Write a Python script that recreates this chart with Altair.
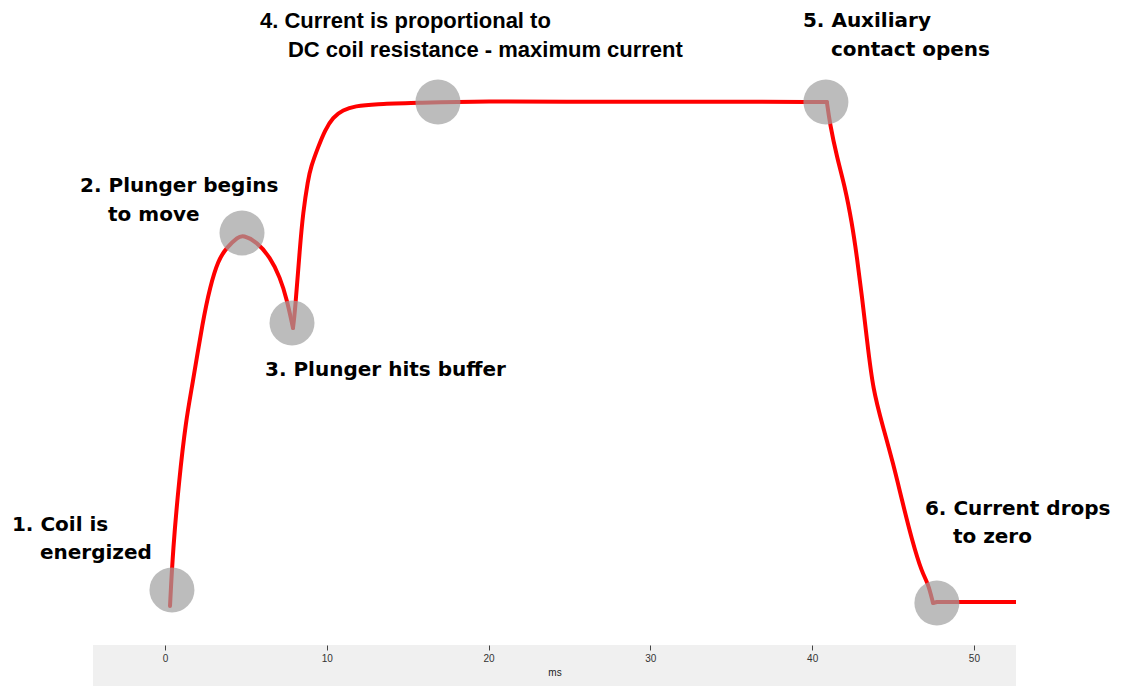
import altair as alt
import pandas as pd

# Current curve (time in ms, current in arbitrary units, 100 = maximum), split at sharp corners
t_ms = [0.31, 0.49, 0.87, 1.30, 1.67, 2.35, 2.78, 3.28, 3.83, 4.51, 4.82, 5.69, 6.49,
        7.11, 7.54, 7.91,
        7.91, 8.03, 8.34, 8.53, 8.84, 9.02, 9.46, 9.89, 10.38, 11.0, 11.74, 12.98,
        15.45, 19.47, 26.9, 33.07, 40.91,
        40.91, 41.09, 41.53, 42.03, 42.46, 42.77, 43.08,
        43.39, 43.76, 44.38, 45.0, 45.55, 46.17, 46.79, 47.16, 47.47,
        47.47, 47.71, 52.6]
current = [-0.6, 10.6, 24.5, 36.5, 43.0, 56.4, 62.9, 68.3, 70.9, 72.9, 73.3, 71.9, 68.9,
           64.9, 60.4, 54.8,
           54.8, 57.8, 70.9, 77.7, 84.3, 86.9, 90.8, 94.2, 96.8, 98.2, 99.0, 99.4,
           99.6, 100.0, 99.8, 99.9, 99.8,
           99.8, 95.6, 88.8, 82.9, 75.7, 68.9, 61.0,
           52.4, 42.4, 35.1, 27.9, 20.5, 12.5, 6.0, 4.0, 0.0,
           0.0, 0.2, 0.2]
segment = [1] * 16 + [2] * 17 + [3] * 16 + [4] * 3

# Event markers
event_t = [0.43, 4.76, 7.85, 16.87, 40.85, 47.71]
event_i = [2.6, 73.7, 55.8, 99.8, 99.8, 0.0]

# Annotation lines
label_text = ["1. Coil is", "energized",
              "2. Plunger begins", "to move",
              "3. Plunger hits buffer",
              "4. Current is proportional to", "DC coil resistance - maximum current",
              "5. Auxiliary", "contact opens",
              "6. Current drops", "to zero"]
label_t = [-9.46, -7.73, -5.25, -3.52, 6.18, 5.87, 7.60, 39.43, 41.16, 46.97, 48.70]
label_i = [15.5, 10.0, 83.1, 77.3, 46.4, 115.9, 110.2, 115.9, 110.2, 18.7, 13.1]
label_group = ["a", "a", "a", "a", "a", "b", "b", "a", "a", "a", "a"]

x_ticks = [0, 10, 20, 30, 40, 50]

curve = pd.DataFrame({"t": t_ms, "i": current, "seg": segment})
curve["k"] = range(len(curve))
events = pd.DataFrame({"t": event_t, "i": event_i})
labels = pd.DataFrame({"t": label_t, "i": label_i, "text": label_text, "g": label_group})

W, H = 923, 637
xs = alt.Scale(domain=[-4.45, 52.6], nice=False, zero=False)
ys = alt.Scale(domain=[-8.37, 118.53], nice=False, zero=False)

xenc = alt.X("t:Q", scale=xs, title="ms",
             axis=alt.Axis(values=x_ticks, domain=False, grid=False, tickSize=5,
                           tickColor="#444", labelColor="#333", labelFontSize=10,
                           labelFont="Liberation Sans", titleFont="Liberation Sans",
                           titleFontSize=10, titleFontWeight="normal", titleColor="#222",
                           labelPadding=3, titlePadding=4, zindex=1))
yenc = alt.Y("i:Q", scale=ys, axis=None)

band = alt.Chart(pd.DataFrame({"a": [0]})).mark_rect(color="#f0f0f0").encode(
    x=alt.value(0), x2=alt.value(W), y=alt.value(H), y2=alt.value(H + 41))

curved = alt.Chart(curve).transform_filter("datum.seg < 4").mark_line(
    color="#ff0000", strokeWidth=4, interpolate="basis", strokeCap="round",
    strokeJoin="round").encode(x=xenc, y=yenc, detail="seg:N", order="k:Q")

flat = alt.Chart(curve).transform_filter("datum.seg == 4").mark_line(
    color="#ff0000", strokeWidth=4, strokeJoin="round").encode(
    x=alt.X("t:Q", scale=xs), y=alt.Y("i:Q", scale=ys), order="k:Q")

dots = alt.Chart(events).mark_circle(size=2025, color="#a0a0a0", opacity=0.7).encode(
    x=alt.X("t:Q", scale=xs), y=alt.Y("i:Q", scale=ys))

text_a = alt.Chart(labels).transform_filter("datum.g == 'a'").mark_text(
    align="left", baseline="middle", fontSize=20, fontWeight="bold",
    font="DejaVu Sans", color="#000000").encode(
    x=alt.X("t:Q", scale=xs), y=alt.Y("i:Q", scale=ys), text="text:N")

text_b = alt.Chart(labels).transform_filter("datum.g == 'b'").mark_text(
    align="left", baseline="middle", fontSize=22, fontWeight="bold",
    font="Liberation Sans", color="#000000").encode(
    x=alt.X("t:Q", scale=xs), y=alt.Y("i:Q", scale=ys), text="text:N")

chart = alt.layer(band, curved, flat, dots, text_a, text_b).properties(
    width=W, height=H,
    autosize=alt.AutoSizeParams(type="none"),
    padding={"left": 85, "top": 0, "right": 97, "bottom": 41},
    background="white",
).configure_view(stroke=None)

chart.save("out.html", embed_options={"renderer": "svg", "actions": False})
